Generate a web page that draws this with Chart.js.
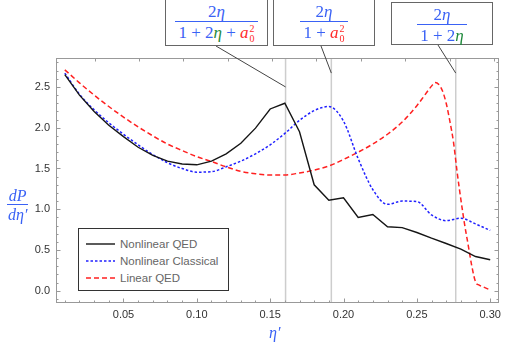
<!DOCTYPE html>
<html>
<head>
<meta charset="utf-8">
<script src="https://cdn.jsdelivr.net/npm/chart.js@4.4.0/dist/chart.umd.min.js"></script>
<style>
body { margin: 0; background: #fff; }
#wrap { position: relative; width: 524px; height: 346px; overflow: hidden; }
#chart { position: absolute; left: 0; top: 0; }
.box { position: absolute; background: #fff; border: 1.5px solid #666; box-sizing: border-box;
       display: flex; justify-content: center; font-family: 'Liberation Serif', 'DejaVu Serif', serif;
       font-size: 17px; color: #3a62f5; }
.frac { display: inline-flex; flex-direction: column; align-items: center; margin-top: 3px; }
.num { line-height: 18px; }
.den { border-top: 1.3px solid #3a62f5; padding: 2px 3px 0; line-height: 18px; white-space: nowrap; }
.g { color: #1f8a3c; }
.r { color: #ff2a2a; }
.ss { display: inline-block; font-size: 10px; line-height: 10px; vertical-align: -4px; margin-left: 1px; }
.ss span { display: block; }
.title { position: absolute; font-family: 'Liberation Serif', 'DejaVu Serif', serif; color: #3a62f5; font-style: italic; font-size: 16px; }
#legend { position: absolute; left: 78px; top: 228px; width: 151px; height: 63px; box-sizing: border-box;
          border: 1.5px solid #333; background: #fff; padding-top: 6px;
          font-family: 'Liberation Sans', Arial, sans-serif; font-size: 11.5px; color: #666; }
#legend .item { display: flex; align-items: center; height: 17px; padding-left: 7px; }
#legend svg { margin-right: 5px; }
</style>
</head>
<body>
<div id="wrap">
  <canvas id="chart" width="524" height="346"></canvas>

  <div class="box" style="left:165px; top:-1px; width:103px; height:47px;">
    <div class="frac"><div class="num">2<i>η</i></div>
      <div class="den">1 + 2<i class="g">η</i> + <i class="r">a</i><span class="ss r"><span>2</span><span>0</span></span></div></div>
  </div>
  <div class="box" style="left:273px; top:-1px; width:102px; height:47px;">
    <div class="frac"><div class="num">2<i>η</i></div>
      <div class="den">1 + <i class="r">a</i><span class="ss r"><span>2</span><span>0</span></span></div></div>
  </div>
  <div class="box" style="left:391px; top:2px; width:102px; height:43px;">
    <div class="frac"><div class="num">2<i>η</i></div>
      <div class="den">1 + 2<i class="g">η</i></div></div>
  </div>

  <div class="title" style="left:7px; top:188px; text-align:center;">
    <div style="line-height:16px;">dP</div>
    <div style="border-top:1.3px solid #3a62f5; line-height:17px; padding:1px 1px 0;">dη′</div>
  </div>
  <div class="title" style="left:269px; top:324px;">η′</div>

  <div id="legend"></div>
</div>

<script>
const etaPrime = [0.01, 0.02, 0.03, 0.04, 0.05, 0.06, 0.07, 0.08, 0.09, 0.10,
                  0.11, 0.12, 0.13, 0.14, 0.15, 0.16, 0.17, 0.18, 0.19, 0.20,
                  0.21, 0.22, 0.23, 0.24, 0.25, 0.26, 0.27, 0.28, 0.29, 0.30];
const nonlinearQED = [2.65, 2.40, 2.20, 2.03, 1.89, 1.76, 1.66, 1.59, 1.555, 1.545,
                      1.59, 1.68, 1.81, 1.995, 2.23, 2.30, 1.95, 1.30, 1.11, 1.14,
                      0.90, 0.935, 0.785, 0.775, 0.715, 0.645, 0.58, 0.51, 0.42, 0.38];
const nonlinearClassical = [2.67, 2.41, 2.22, 2.06, 1.92, 1.79, 1.67, 1.57, 1.50, 1.455,
                            1.46, 1.52, 1.59, 1.68, 1.79, 1.93, 2.09, 2.21, 2.26, 2.08,
                            1.62, 1.24, 1.06, 1.10, 1.095, 0.93, 0.86, 0.89, 0.82, 0.74];
const linearEta = [0.01, 0.02, 0.03, 0.04, 0.05, 0.06, 0.07, 0.08, 0.09, 0.10,
                   0.11, 0.12, 0.13, 0.14, 0.15, 0.16, 0.17, 0.18, 0.19, 0.20,
                   0.21, 0.22, 0.23, 0.24, 0.25, 0.255, 0.26, 0.2625, 0.265, 0.2675,
                   0.27, 0.2725, 0.275, 0.2775, 0.28, 0.2825, 0.285, 0.2875, 0.29, 0.2925,
                   0.295, 0.2975, 0.30];
const linearQED = [2.71, 2.55, 2.40, 2.26, 2.13, 2.01, 1.90, 1.80, 1.72, 1.645,
                   1.585, 1.52, 1.465, 1.435, 1.42, 1.42, 1.445, 1.48, 1.53, 1.61,
                   1.70, 1.80, 1.92, 2.07, 2.27, 2.39, 2.51, 2.555, 2.53, 2.45,
                   2.30, 2.08, 1.82, 1.45, 1.12, 0.82, 0.56, 0.30, 0.11, 0.07,
                   0.05, 0.03, 0.01];
const seriesLabels = ['Nonlinear QED', 'Nonlinear Classical', 'Linear QED'];

// thresholds 2η/(1+2η+a0²), 2η/(1+a0²), 2η/(1+2η)
const markerEtas = [0.1605, 0.1917, 0.2765];
const leaderTargets = [[0.1605, 2.50], [0.1917, 2.67], [0.2765, 2.67]];
const leaderStarts = [[216, 46], [321, 46], [438, 45]];

const xTicks = [];
for (let i = 1; i <= 30; i++) xTicks.push(i / 100);
const yTicks = [];
for (let i = -1; i <= 28; i++) yTicks.push(i / 10);
const topTicks = [0.0304, 0.0606, 0.0908, 0.1210, 0.1512, 0.1815, 0.2118, 0.2421, 0.2724, 0.3027];

function isMult(v, step) {
    return Math.abs(v / step - Math.round(v / step)) < 1e-6;
}

const framePlugin = {
    id: 'frame',
    beforeDatasetsDraw(chart) {
        const { ctx, chartArea: a, scales: { x } } = chart;
        ctx.save();
        ctx.strokeStyle = '#cdcdcd';
        ctx.lineWidth = 1.5;
        markerEtas.forEach(v => {
            const px = x.getPixelForValue(v);
            ctx.beginPath();
            ctx.moveTo(px, a.top);
            ctx.lineTo(px, a.bottom);
            ctx.stroke();
        });
        ctx.restore();
    },
    afterDatasetsDraw(chart) {
        const { ctx, chartArea: a, scales: { x, y } } = chart;
        ctx.save();
        ctx.strokeStyle = '#999';
        ctx.lineWidth = 1;
        ctx.strokeRect(a.left + 0.5, a.top + 0.5, a.right - a.left - 1, a.bottom - a.top - 1);
        ctx.beginPath();
        xTicks.forEach(v => {
            const px = Math.round(x.getPixelForValue(v)) + 0.5;
            const len = isMult(v, 0.05) ? 4.5 : 2.5;
            ctx.moveTo(px, a.bottom);
            ctx.lineTo(px, a.bottom - len);
        });
        topTicks.forEach(v => {
            const px = Math.round(x.getPixelForValue(v)) + 0.5;
            ctx.moveTo(px, a.top);
            ctx.lineTo(px, a.top + 3.5);
        });
        yTicks.forEach(v => {
            const py = Math.round(y.getPixelForValue(v)) + 0.5;
            const len = isMult(v, 0.5) ? 4.5 : 2.5;
            ctx.moveTo(a.left, py);
            ctx.lineTo(a.left + len, py);
            ctx.moveTo(a.right, py);
            ctx.lineTo(a.right - len, py);
        });
        ctx.stroke();
        ctx.restore();
    },
    afterDraw(chart) {
        const { ctx, scales: { x, y } } = chart;
        ctx.save();
        ctx.strokeStyle = '#444';
        ctx.lineWidth = 1;
        leaderTargets.forEach((t, i) => {
            ctx.beginPath();
            ctx.moveTo(leaderStarts[i][0], leaderStarts[i][1]);
            ctx.lineTo(x.getPixelForValue(t[0]), y.getPixelForValue(t[1]));
            ctx.stroke();
        });
        ctx.restore();
    }
};

const ctx = document.getElementById('chart').getContext('2d');
const chart = new Chart(ctx, {
    type: 'line',
    data: {
        datasets: [{
            label: seriesLabels[0],
            data: etaPrime.map((v, i) => ({ x: v, y: nonlinearQED[i] })),
            borderColor: '#151515',
            borderWidth: 1.4,
            tension: 0,
            pointRadius: 0
        }, {
            label: seriesLabels[1],
            data: etaPrime.map((v, i) => ({ x: v, y: nonlinearClassical[i] })),
            borderColor: '#2020ff',
            borderWidth: 1.5,
            borderDash: [2.5, 2],
            cubicInterpolationMode: 'monotone',
            pointRadius: 0
        }, {
            label: seriesLabels[2],
            data: linearEta.map((v, i) => ({ x: v, y: linearQED[i] })),
            borderColor: '#ff2020',
            borderWidth: 1.5,
            borderDash: [5, 3],
            cubicInterpolationMode: 'monotone',
            pointRadius: 0
        }]
    },
    options: {
        responsive: false,
        animation: false,
        devicePixelRatio: 1,
        layout: { padding: { left: 0, top: 58, right: 25, bottom: 0 } },
        plugins: {
            legend: { display: false },
            tooltip: { enabled: false }
        },
        scales: {
            x: {
                type: 'linear',
                min: 0.004,
                max: 0.306,
                grid: { display: false, drawTicks: false },
                border: { display: false },
                afterBuildTicks: scale => { scale.ticks = xTicks.map(v => ({ value: v })); },
                afterFit: scale => { scale.height = 43; },
                ticks: {
                    autoSkip: false,
                    maxRotation: 0,
                    padding: 5,
                    color: '#333',
                    font: { family: 'Liberation Sans', size: 11 },
                    callback: v => isMult(v, 0.05) ? v.toFixed(2) : ''
                }
            },
            y: {
                min: -0.15,
                max: 2.855,
                grid: { display: false, drawTicks: false },
                border: { display: false },
                afterBuildTicks: scale => { scale.ticks = yTicks.map(v => ({ value: v })); },
                afterFit: scale => { scale.width = 56; },
                ticks: {
                    autoSkip: false,
                    padding: 6,
                    color: '#333',
                    font: { family: 'Liberation Sans', size: 11 },
                    callback: v => isMult(v, 0.5) ? v.toFixed(1) : ''
                }
            }
        }
    },
    plugins: [framePlugin]
});

// legend box built from the chart datasets
const legend = document.getElementById('legend');
chart.data.datasets.forEach(ds => {
    const item = document.createElement('div');
    item.className = 'item';
    const dash = ds.borderDash ? ds.borderDash.join(' ') : 'none';
    item.innerHTML = '<svg width="29" height="4"><line x1="0" y1="2" x2="29" y2="2" stroke="' + ds.borderColor +
        '" stroke-width="' + ds.borderWidth + '" stroke-dasharray="' + dash + '"/></svg><span>' + ds.label + '</span>';
    legend.appendChild(item);
});
</script>
</body>
</html>
